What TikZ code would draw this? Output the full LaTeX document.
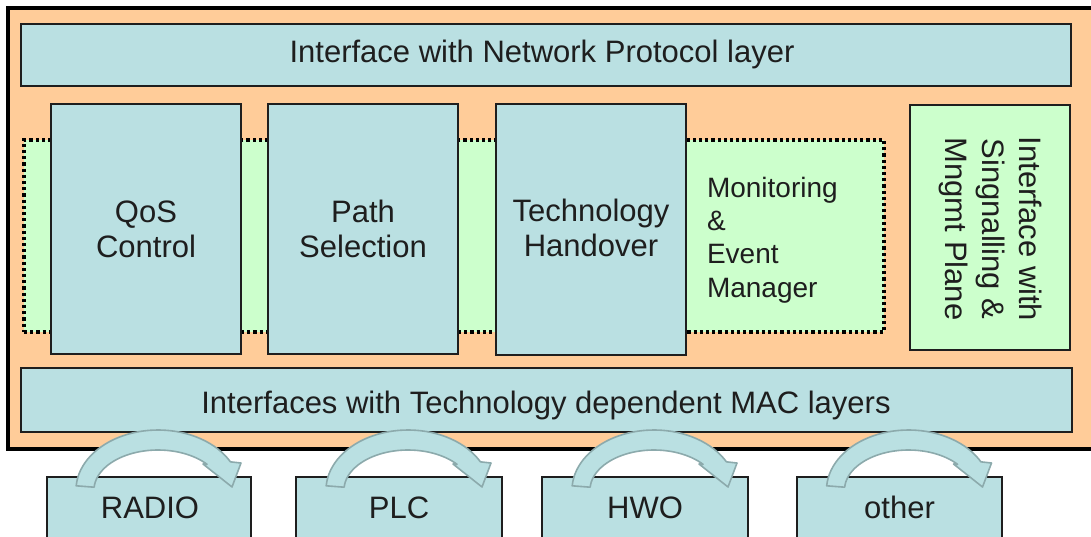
\documentclass[tikz,border=0pt]{standalone}
\usepackage{fontspec}
\setmainfont{Liberation Sans}
\definecolor{peach}{HTML}{FFCC99}
\definecolor{paleblue}{RGB}{186,224,226}
\definecolor{palegreen}{HTML}{CCFFCC}
\definecolor{edgegrey}{RGB}{140,170,172}
\definecolor{inkline}{RGB}{30,30,30}
\begin{document}
\begin{tikzpicture}[x=1pt,y=-1pt,
  every node/.style={inner sep=0pt, outer sep=0pt, text=inkline},
  frame/.style={draw=black, line width=4pt, fill=peach, anchor=north west},
  bluebox/.style={draw=inkline, line width=1.4pt, fill=paleblue, anchor=north west},
  greenbox/.style={draw=inkline, line width=1.4pt, fill=palegreen, anchor=north west},
  dotbox/.style={draw=black, line width=3.2pt, dash pattern=on 3.2pt off 3pt, fill=palegreen, anchor=north west},
  bigtext/.style={font=\fontsize{31}{35}\selectfont, align=center},
  midtext/.style={font=\fontsize{28}{33.4}\selectfont, align=left},
  sidetext/.style={font=\fontsize{31}{37}\selectfont, align=center, rotate=-90},
  bend arrow/.pic={
    \filldraw[fill=paleblue, draw=edgegrey, line width=1.6pt, line join=round]
      plot[domain=184:332, samples=40] ({9+82*cos(\x)},{13+60*sin(\x)})
      -- (92,-14) -- (83,10) -- (54,-13)
      -- plot[domain=0:1, samples=40] ({9+64*cos(320-136*\x)},{13+40*sin(320-136*\x)})
      -- cycle;
  }]
\useasboundingbox (0,0) rectangle (1091,537);

% outer module frame (runs off to the right)
\node[frame, minimum width=1092, minimum height=441] (module) at (8,8) {};

% horizontal interface bars
\node[bluebox, minimum width=1050, minimum height=62] (nplayer) at (21,24) {};
\node[bigtext, anchor=base] (nplabel) at (542,63) {Interface with Network Protocol layer};
\node[bluebox, minimum width=1051, minimum height=64] (maclayer) at (21,368) {};
\node[bigtext, anchor=base] (maclabel) at (546,413) {Interfaces with Technology dependent MAC layers};

% monitoring band behind the functional blocks
\node[dotbox, minimum width=860, minimum height=192] (monitor) at (24,140) {};
\node[midtext, anchor=west] (monlabel) at (707,240) {Monitoring\\\&\\Event\\Manager};

% functional blocks
\node[bluebox, minimum width=190, minimum height=250] (qos) at (51,104) {};
\node[bigtext] (qoslabel) at (146,229) {QoS\\Control};
\node[bluebox, minimum width=190, minimum height=250] (path) at (268,104) {};
\node[bigtext] (pathlabel) at (363,229) {Path\\Selection};
\node[bluebox, minimum width=190, minimum height=251] (handover) at (496,104) {};
\node[bigtext] (holabel) at (591,228) {Technology\\Handover};

% signalling / management interface
\node[greenbox, minimum width=160, minimum height=245] (signal) at (910,105) {};
\node[sidetext] (siglabel) at (990,229) {Interface with\\Singnalling \&\\Mngmt Plane};

% access technologies
\node[bluebox, minimum width=204, minimum height=80] (radio) at (47,477) {};
\node[bigtext, anchor=base] (radiolabel) at (150,518) {RADIO};
\node[bluebox, minimum width=206, minimum height=80] (plc) at (296,477) {};
\node[bigtext, anchor=base] (plclabel) at (399,518) {PLC};
\node[bluebox, minimum width=206, minimum height=80] (hwo) at (542,477) {};
\node[bigtext, anchor=base] (hwolabel) at (645,518) {HWO};
\node[bluebox, minimum width=205, minimum height=80] (other) at (797,477) {};
\node[bigtext, anchor=base] (otherlabel) at (899.5,518) {other};

% curved arrows linking each technology to the MAC interfaces
\pic at (radio.north) {bend arrow};
\pic at (plc.north) {bend arrow};
\pic at (hwo.north) {bend arrow};
\pic at (other.north) {bend arrow};
\end{tikzpicture}
\end{document}
